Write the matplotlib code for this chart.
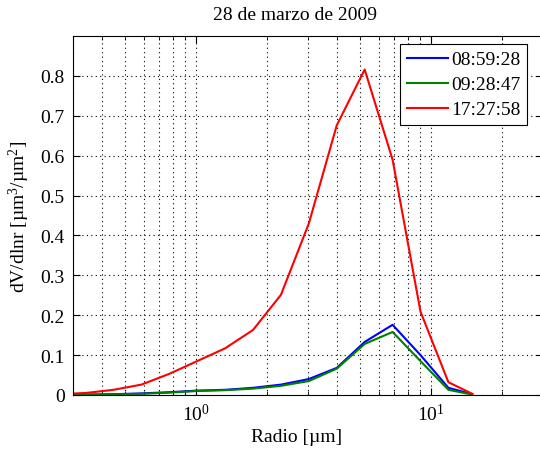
import matplotlib

matplotlib.use("Agg")
import matplotlib.pyplot as plt
from matplotlib.ticker import LogLocator, NullFormatter, FixedLocator

plt.rcParams["font.family"] = ["Liberation Serif", "DejaVu Serif"]
plt.rcParams["mathtext.fontset"] = "custom"
plt.rcParams["mathtext.rm"] = "Liberation Serif"
plt.rcParams["mathtext.it"] = "Liberation Serif:italic"
plt.rcParams["mathtext.bf"] = "Liberation Serif:bold"

# radios de las bandas (um)
radius = [0.2580, 0.3392, 0.4459, 0.5861, 0.7705, 1.0129, 1.3315, 1.7503,
          2.3009, 3.0248, 3.9763, 5.2271, 6.8713, 9.0326, 11.8739, 15.0]
labels = ["08:59:28", "09:28:47", "17:27:58"]
dv_0859 = [0.0005, 0.001, 0.002, 0.004, 0.007, 0.011, 0.013, 0.018,
           0.026, 0.040, 0.068, 0.133, 0.176, 0.100, 0.018, 0.002]
dv_0928 = [0.0003, 0.0008, 0.0015, 0.003, 0.006, 0.010, 0.012, 0.016,
           0.023, 0.035, 0.066, 0.128, 0.158, 0.085, 0.013, 0.001]
dv_1727 = [0.002, 0.005, 0.013, 0.026, 0.053, 0.085, 0.117, 0.163,
           0.251, 0.430, 0.676, 0.816, 0.590, 0.209, 0.032, 0.003]
colors = ["#0000ff", "#008000", "#ff0000"]

fig = plt.figure(figsize=(5.4, 4.56), dpi=100)
# the right edge of the axes falls just outside the picture, as in the original
ax = fig.add_axes([73 / 540, 60 / 456, 470 / 540, 359 / 456])

for values, label, color in zip([dv_0859, dv_0928, dv_1727], labels, colors):
    ax.plot(radius, values, color=color, lw=1.5, label=label)

ax.set_xscale("log")
ax.set_xlim(0.3, 30)
ax.set_ylim(0, 0.9)
ax.yaxis.set_major_locator(FixedLocator([0, 0.1, 0.2, 0.3, 0.4, 0.5, 0.6, 0.7, 0.8]))
ax.set_yticklabels(["0", "0.1", "0.2", "0.3", "0.4", "0.5", "0.6", "0.7", "0.8"])
ax.xaxis.set_major_locator(LogLocator(base=10))
ax.xaxis.set_minor_locator(LogLocator(base=10, subs=range(2, 10)))
ax.xaxis.set_minor_formatter(NullFormatter())

dots = (0, (1, 3))
ax.grid(True, which="both", axis="x", color="black", linestyle=dots, linewidth=0.8)
ax.grid(True, which="major", axis="y", color="black", linestyle=dots, linewidth=0.8)
ax.tick_params(which="both", direction="in", top=True, right=True, labelsize=14, pad=6)
ax.tick_params(which="major", length=5)
ax.tick_params(which="minor", length=3)
for spine in ax.spines.values():
    spine.set_linewidth(0.8)

fig.text(295 / 540, 1 - 15 / 456, "28 de marzo de 2009", fontsize=14,
         ha="center", va="center")
fig.text(297 / 540, 1 - 438 / 456, "Radio [µm]", fontsize=14,
         ha="center", va="center")
ax.set_ylabel("dV/dlnr [µm$^3$/µm$^2$]", fontsize=14, labelpad=6)

leg = ax.legend(loc="upper right", bbox_to_anchor=(454 / 470, 1 - 8 / 359), fontsize=14,
                fancybox=False, framealpha=1, edgecolor="black",
                handlelength=2.1, handletextpad=0.15, borderpad=0.35,
                labelspacing=0.38, borderaxespad=0)
leg.get_frame().set_linewidth(0.8)

fig.savefig("out.png", dpi=100)
